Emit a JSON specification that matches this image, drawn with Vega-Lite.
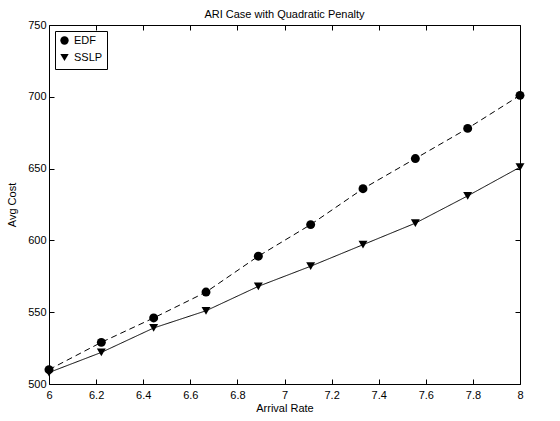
{
  "$schema": "https://vega.github.io/schema/vega-lite/v6.json",
  "width": 471,
  "height": 359,
  "autosize": {"type": "none"},
  "padding": {"left": 49, "top": 25, "right": 40, "bottom": 37},
  "background": "white",
  "title": {"text": "ARI Case with Quadratic Penalty", "font": "Liberation Sans", "fontSize": 11, "fontWeight": "normal", "color": "black", "offset": -1},
  "config": {
    "view": {"stroke": "black", "strokeWidth": 1},
    "font": "Liberation Sans",
    "axis": {
      "grid": false,
      "domain": false,
      "tickColor": "black",
      "tickSize": -5,
      "labelFont": "Liberation Sans",
      "labelFontSize": 11,
      "labelColor": "black",
      "titleFont": "Liberation Sans",
      "titleFontSize": 11,
      "titleFontWeight": "normal",
      "titleColor": "black"
    },
    "legend": {
      "title": null, "orient": "top-left", "offset": 6,
      "strokeColor": "black", "fillColor": "white", "padding": 4,
      "labelFont": "Liberation Sans", "labelFontSize": 11, "labelColor": "black",
      "labelOffset": 4, "rowPadding": 2,
      "symbolFillColor": "black", "symbolStrokeColor": "black", "symbolSize": 70
    }
  },
  "data": {"values": [
    {"rate": 6.0, "cost": 510, "method": "EDF"},
    {"rate": 6.2222, "cost": 529, "method": "EDF"},
    {"rate": 6.4444, "cost": 546, "method": "EDF"},
    {"rate": 6.6667, "cost": 564, "method": "EDF"},
    {"rate": 6.8889, "cost": 589, "method": "EDF"},
    {"rate": 7.1111, "cost": 611, "method": "EDF"},
    {"rate": 7.3333, "cost": 636, "method": "EDF"},
    {"rate": 7.5556, "cost": 657, "method": "EDF"},
    {"rate": 7.7778, "cost": 678, "method": "EDF"},
    {"rate": 8.0, "cost": 701, "method": "EDF"},
    {"rate": 6.0, "cost": 508, "method": "SSLP"},
    {"rate": 6.2222, "cost": 522, "method": "SSLP"},
    {"rate": 6.4444, "cost": 539, "method": "SSLP"},
    {"rate": 6.6667, "cost": 551, "method": "SSLP"},
    {"rate": 6.8889, "cost": 568, "method": "SSLP"},
    {"rate": 7.1111, "cost": 582, "method": "SSLP"},
    {"rate": 7.3333, "cost": 597, "method": "SSLP"},
    {"rate": 7.5556, "cost": 612, "method": "SSLP"},
    {"rate": 7.7778, "cost": 631, "method": "SSLP"},
    {"rate": 8.0, "cost": 651, "method": "SSLP"}
  ]},
  "layer": [
    {
      "mark": {"type": "line", "color": "black", "strokeWidth": 1, "clip": false},
      "encoding": {
        "x": {"field": "rate", "type": "quantitative", "scale": {"domain": [6, 8], "nice": false, "zero": false},
              "axis": {"orient": "bottom", "title": "Arrival Rate", "values": [6, 6.2, 6.4, 6.6, 6.8, 7, 7.2, 7.4, 7.6, 7.8, 8], "format": ".1~f", "labelPadding": 10, "titlePadding": 2, "labelFlush": false}},
        "y": {"field": "cost", "type": "quantitative", "scale": {"domain": [500, 750], "nice": false, "zero": false},
              "axis": {"orient": "left", "title": "Avg Cost", "values": [500, 550, 600, 650, 700, 750], "labelPadding": 8, "titlePadding": 10}},
        "strokeDash": {"field": "method", "type": "nominal", "scale": {"domain": ["EDF", "SSLP"], "range": [[6, 4], [1, 0]]}}
      }
    },
    {
      "mark": {"type": "point", "filled": true, "color": "black", "opacity": 1, "clip": false, "size": 80},
      "encoding": {
        "x": {"field": "rate", "type": "quantitative", "axis": {"orient": "top", "labels": false, "title": null, "values": [6, 6.2, 6.4, 6.6, 6.8, 7, 7.2, 7.4, 7.6, 7.8, 8]}},
        "y": {"field": "cost", "type": "quantitative", "axis": {"orient": "right", "labels": false, "title": null, "values": [500, 550, 600, 650, 700, 750]}},
        "shape": {"field": "method", "type": "nominal", "scale": {"domain": ["EDF", "SSLP"], "range": ["circle", "triangle-down"]}}
      }
    }
  ],
  "resolve": {"axis": {"x": "independent", "y": "independent"}}
}
